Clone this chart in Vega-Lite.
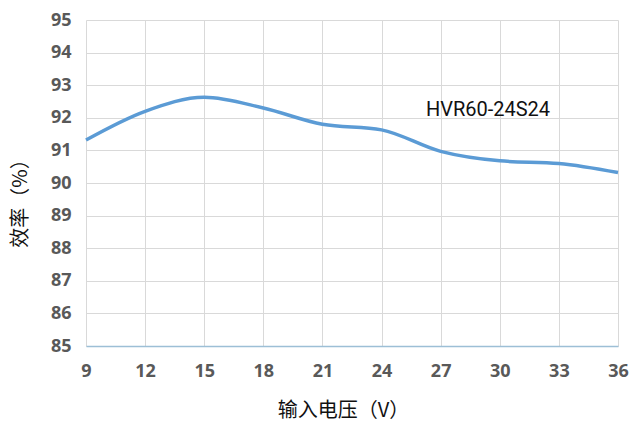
{
  "$schema": "https://vega.github.io/schema/vega-lite/v6.json",
  "width": 532,
  "height": 326,
  "autosize": {"type": "none"},
  "padding": {"left": 86, "top": 20, "right": 14, "bottom": 78},
  "background": "white",
  "config": {"view": {"stroke": null}},
  "datasets": {
    "eff": [
      {"v": 9, "e": 91.32},
      {"v": 12, "e": 92.2},
      {"v": 15, "e": 92.63},
      {"v": 18, "e": 92.3},
      {"v": 21, "e": 91.8},
      {"v": 24, "e": 91.63},
      {"v": 27, "e": 90.97},
      {"v": 30, "e": 90.68},
      {"v": 33, "e": 90.6},
      {"v": 36, "e": 90.32}
    ],
    "lbl": [{"v": 29.4, "e": 92.24, "t": "HVR60-24S24"}]
  },
  "encoding": {
    "x": {
      "field": "v", "type": "quantitative",
      "scale": {"domain": [9, 36], "nice": false, "zero": false},
      "axis": {
        "values": [9, 12, 15, 18, 21, 24, 27, 30, 33, 36],
        "title": "输入电压（V）",
        "titleFont": "Noto Sans CJK SC", "titleFontSize": 20, "titleFontWeight": "normal", "titleColor": "#111111",
        "titleX": 257, "titleY": 64, "titleBaseline": "middle",
        "labelFont": "Open Sans", "labelFontSize": 18, "labelFontWeight": "bold", "labelColor": "#595959",
        "labelPadding": 16, "labelFlush": false, "labelOverlap": false,
        "ticks": false, "domainColor": "#9dbfd6", "domainWidth": 1.5,
        "gridColor": "#d9d9d9", "gridWidth": 1
      }
    },
    "y": {
      "field": "e", "type": "quantitative",
      "scale": {"domain": [85, 95], "nice": false, "zero": false},
      "axis": {
        "values": [85, 86, 87, 88, 89, 90, 91, 92, 93, 94, 95],
        "title": "效率（%）",
        "titleFont": "Noto Sans CJK SC", "titleFontSize": 20, "titleFontWeight": "normal", "titleColor": "#111111",
        "titleX": -66, "titleY": 178, "titleBaseline": "middle",
        "labelFont": "Open Sans", "labelFontSize": 18, "labelFontWeight": "bold", "labelColor": "#595959",
        "labelPadding": 15, "labelFlush": false, "labelOverlap": false,
        "ticks": false, "domain": false,
        "gridColor": "#d9d9d9", "gridWidth": 1
      }
    }
  },
  "layer": [
    {
      "data": {"name": "eff"},
      "mark": {"type": "line", "interpolate": "monotone", "color": "#5b9bd5", "strokeWidth": 3.5}
    },
    {
      "data": {"name": "lbl"},
      "mark": {"type": "text", "font": "Roboto", "fontSize": 20, "color": "#111111", "align": "center", "baseline": "middle"},
      "encoding": {
        "text": {"field": "t"}
      }
    }
  ]
}
